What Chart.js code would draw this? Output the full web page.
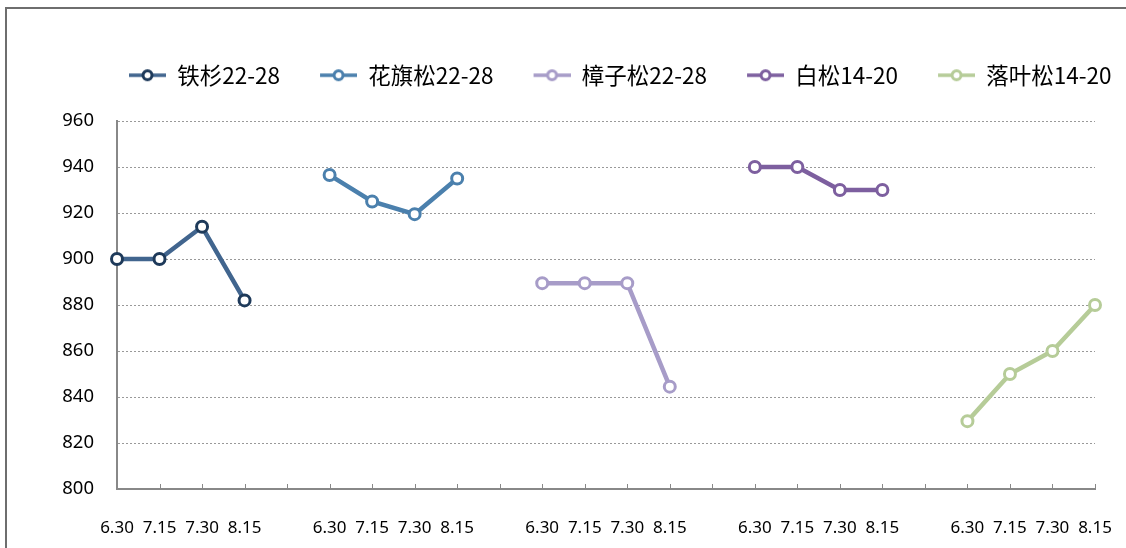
<!DOCTYPE html>
<html>
<head>
<meta charset="utf-8">
<script src="https://cdn.jsdelivr.net/npm/chart.js@4.4.1/dist/chart.umd.min.js"></script>
<style>
  body { margin: 0; background: #fff; overflow: hidden; }
  #wrap { position: relative; width: 1126px; height: 548px; }
  #frame {
    position: absolute; left: 5px; top: 7px; width: 1200px; height: 600px;
    border-top: 2px solid #6e6e6e; border-left: 2px solid #6e6e6e;
    pointer-events: none;
  }
</style>
</head>
<body>
<div id="wrap">
  <canvas id="myChart" width="1126" height="548"></canvas>
  <div id="frame"></div>
</div>
<script>
const dates = ["6.30", "7.15", "7.30", "8.15"];
const names = ["铁杉22-28", "花旗松22-28", "樟子松22-28", "白松14-20", "落叶松14-20"];
const tieshan = [900, 900, 914, 882];
const huaqisong = [936.5, 925, 919.5, 935];
const zhangzisong = [889.5, 889.5, 889.5, 844.5];
const baisong = [940, 940, 930, 930];
const luoyesong = [829.5, 850, 860, 880];
const yTicks = [800, 820, 840, 860, 880, 900, 920, 940, 960];

const lineColors = ["#41658e", "#4b80ad", "#a79cc8", "#7d5f9f", "#b6cc98"];
const markColors = ["#1e3a5a", "#4b80ad", "#a79cc8", "#7d5f9f", "#b6cc98"];

// 5 groups of 4 dates, a blank slot between groups
const labels = [];
for (let g = 0; g < 5; g++) {
  dates.forEach(d => labels.push(d));
  if (g < 4) labels.push("");
}

function place(values, group) {
  const arr = labels.map(() => null);
  values.forEach((v, i) => { arr[group * 5 + i] = v; });
  return arr;
}

// legend icon: empty lead-in (item spacing), then line with a ring
const LEAD = 36;
const SEG = 37;
function legendIcon(line, mark) {
  const c = document.createElement("canvas");
  c.width = LEAD + SEG;
  c.height = 16;
  const g = c.getContext("2d");
  g.strokeStyle = line;
  g.lineWidth = 3.5;
  g.beginPath();
  g.moveTo(LEAD, 8);
  g.lineTo(LEAD + SEG, 8);
  g.stroke();
  g.beginPath();
  g.arc(LEAD + SEG / 2, 8, 4.5, 0, Math.PI * 2);
  g.fillStyle = "#fff";
  g.fill();
  g.lineWidth = 3;
  g.strokeStyle = mark;
  g.stroke();
  return c;
}

const series = [tieshan, huaqisong, zhangzisong, baisong, luoyesong];
const icons = series.map((s, i) => legendIcon(lineColors[i], markColors[i]));

const datasets = series.map((s, i) => ({
  label: names[i],
  data: place(s, i),
  borderColor: lineColors[i],
  borderWidth: 4.5,
  pointRadius: 5.5,
  pointBorderWidth: 3,
  pointBorderColor: markColors[i],
  pointBackgroundColor: "#fff",
  spanGaps: false,
  tension: 0,
}));

// extra room under the legend, and push the row to the right like the original
const legendMargin = {
  id: "legendMargin",
  beforeInit(chart) {
    const fit = chart.legend.fit;
    chart.legend.fit = function () {
      fit.bind(chart.legend)();
      this.height += 24.5;
      this.lineWidths[0] = 4 + this.width - 2 * (129 - LEAD);
    };
  },
};

// small tick marks pointing up from the x axis
const xTicks = {
  id: "xTicks",
  afterDatasetsDraw(chart) {
    const sc = chart.scales.x;
    const ctx = chart.ctx;
    ctx.save();
    ctx.strokeStyle = "#888";
    ctx.lineWidth = 1;
    ctx.beginPath();
    for (let i = 0; i < sc.ticks.length; i++) {
      const x = Math.round(sc.getPixelForTick(i)) + 0.5;
      ctx.moveTo(x, sc.top);
      ctx.lineTo(x, sc.top - 5);
    }
    ctx.stroke();
    ctx.restore();
  },
};

const chart = new Chart(document.getElementById("myChart"), {
  type: "line",
  data: { labels: labels, datasets: datasets },
  plugins: [legendMargin, xTicks],
  options: {
    responsive: false,
    animation: false,
    layout: { padding: { left: 0, right: 0, top: 60, bottom: 0 } },
    plugins: {
      tooltip: { enabled: false },
      legend: {
        labels: {
          usePointStyle: true,
          pointStyleWidth: LEAD + SEG,
          padding: 4,
          color: "#000",
          font: { family: "'Noto Sans CJK SC'", size: 22.5 },
          generateLabels(chart) {
            const items = Chart.defaults.plugins.legend.labels.generateLabels(chart);
            items.forEach((it, i) => { it.pointStyle = icons[i]; });
            return items;
          },
        },
      },
    },
    scales: {
      x: {
        offset: false,
        grid: { display: false },
        border: { color: "#888", width: 2 },
        ticks: {
          autoSkip: false, maxRotation: 0, padding: 21, color: "#000",
          font: { family: "'Noto Sans'", size: 17 },
        },
        afterFit(scale) {
          scale.height = 59;
          scale.paddingLeft = 0;
          scale.paddingRight = 31;
        },
      },
      y: {
        min: 800,
        max: 960,
        afterBuildTicks(scale) { scale.ticks = yTicks.map(v => ({ value: v })); },
        grid: {
          drawTicks: false,
          color: ctx => (ctx.tick && ctx.tick.value === 800 ? "rgba(0,0,0,0)" : "#999"),
        },
        border: { color: "#888", width: 2, dash: [2, 2] },
        ticks: {
          padding: 23, color: "#000",
          font: { family: "'Noto Sans'", size: 18.5 },
        },
        afterFit(scale) { scale.width = 117; },
      },
    },
  },
});
</script>
</body>
</html>
